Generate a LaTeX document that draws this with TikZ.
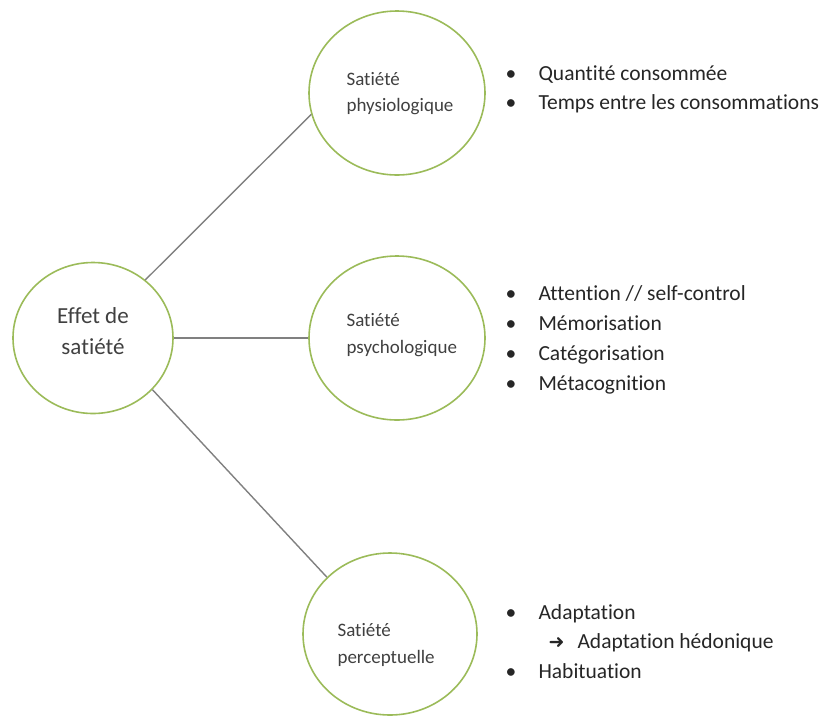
\documentclass[tikz,border=0pt]{standalone}
\usepackage{fontspec}
\setmainfont{Carlito}[Ligatures=NoCommon]
\newfontfamily\symfont{DejaVu Sans Bold}
\usetikzlibrary{shapes.geometric}

\definecolor{ringgreen}{RGB}{155,187,89}
\definecolor{linkgray}{RGB}{128,128,128}
\definecolor{txtgray}{RGB}{64,64,64}

\tikzset{
	ring/.style={ellipse, draw=ringgreen, line width=1.6pt, inner sep=0pt},
	link/.style={draw=linkgray, line width=1.4pt},
	lbl/.style={anchor=base west, text=txtgray, font=\fontsize{19}{22}\selectfont},
	item/.style={anchor=base west, text=black!85, font=\fontsize{21.5}{26}\selectfont},
}
\newcommand{\bul}{\makebox[33pt][l]{\textbullet}}
\newcommand{\fleche}{\makebox[29pt][l]{\symfont\fontsize{19}{19}\selectfont ➜}}

\begin{document}
\begin{tikzpicture}[x=1pt,y=-1pt]
	\useasboundingbox (0,0) rectangle (822,716);
	% cercles
	\node[ring, minimum width=160pt, minimum height=151pt] (effet) at (93,338) {};
	\node[ring, minimum width=176pt, minimum height=164pt] (physio) at (397,93) {};
	\node[ring, minimum width=176pt, minimum height=164pt] (psycho) at (397,338) {};
	\node[ring, minimum width=174pt, minimum height=162pt] (percep) at (390,634) {};
	% liens
	\draw[link] (effet.48) -- (physio.194);
	\draw[link] (effet.east) -- (psycho.west);
	\draw[link] (effet.-41) -- (percep.138);
	% textes des cercles
	\node[anchor=base, text=txtgray, font=\fontsize{23}{28}\selectfont] (effetA) at (93,323) {Effet de};
	\node[anchor=base, text=txtgray, font=\fontsize{23}{28}\selectfont] (effetB) at (93,354) {satiété};
	\node[lbl] (physioA) at (343,85) {Satiété};
	\node[lbl] (physioB) at (343,111.5) {physiologique};
	\node[lbl] (psychoA) at (343,326) {Satiété};
	\node[lbl] (psychoB) at (343,353) {psychologique};
	\node[lbl] (percepA) at (334,636) {Satiété};
	\node[lbl] (percepB) at (334,663.5) {perceptuelle};
	% listes
	\node[item] (quant) at (502,80) {\bul Quantité consommée};
	\node[item] (temps) at (502,109) {\bul Temps entre les consommations};
	\node[item] (attn) at (502,300) {\bul Attention // self-control};
	\node[item] (memo) at (502,330) {\bul Mémorisation};
	\node[item] (categ) at (502,360) {\bul Catégorisation};
	\node[item] (meta) at (502,390) {\bul Métacognition};
	\node[item] (adapt) at (502,619) {\bul Adaptation};
	\node[item] (hedo) at (545,648.5) {\fleche Adaptation hédonique};
	\node[item] (habit) at (502,678) {\bul Habituation};
\end{tikzpicture}
\end{document}
